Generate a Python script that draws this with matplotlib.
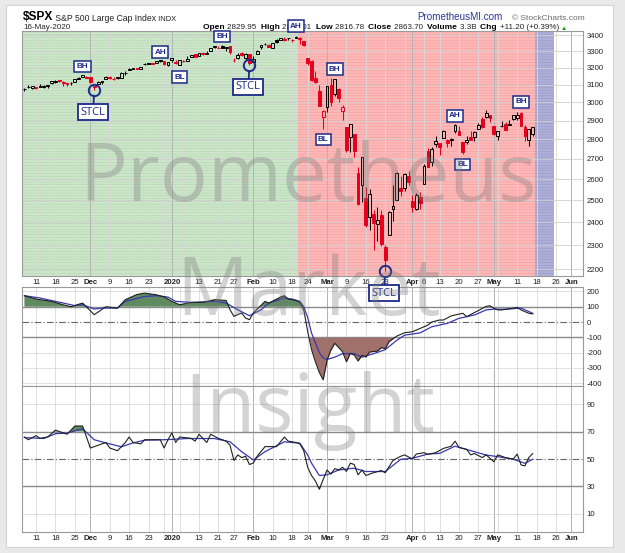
import matplotlib
matplotlib.use("agg")
import matplotlib.pyplot as plt
from matplotlib.ticker import FixedLocator, NullLocator, FixedFormatter
import numpy as np
import pandas as pd

W, H = 625, 553

# ---- trading calendar -------------------------------------------------
holidays = ["2019-11-28", "2019-12-25", "2020-01-01", "2020-01-20",
            "2020-02-17", "2020-04-10", "2020-05-25"]
cal = pd.bdate_range("2019-11-06", "2020-06-05")
cal = cal[~cal.isin(pd.to_datetime(holidays))]
day_index = {d: i for i, d in enumerate(cal)}


def idx(md):
    year = "2019" if md[:2] in ("11", "12") else "2020"
    return day_index[pd.Timestamp(f"{year}-{md}")]


# ---- $SPX daily OHLC, 6-Nov-2019 .. 15-May-2020 -----------------------
opens = [
    3075.10, 3087.02, 3081.25, 3080.33, 3089.28, 3084.18, 3090.75, 3107.92, 3117.91, 3127.45,
    3114.66, 3108.49, 3111.41, 3117.44, 3134.85, 3145.49, 3147.18,
    3143.85, 3087.41, 3103.50, 3119.21, 3134.62, 3141.86, 3135.36, 3135.75, 3141.23, 3166.65,
    3183.63, 3195.40, 3195.21, 3192.32, 3223.33, 3226.05, 3225.45, 3227.20, 3247.23, 3240.09, 3215.18,
    3244.67, 3226.36, 3217.55, 3241.86, 3238.59, 3266.03, 3281.81, 3271.13, 3285.35, 3282.27,
    3302.97, 3323.66, 3321.03, 3330.02, 3315.77, 3333.10, 3247.16, 3255.35, 3289.46, 3256.45, 3282.33,
    3235.66, 3280.61, 3324.91, 3344.92, 3335.54, 3318.28, 3365.87, 3370.50, 3365.90, 3378.08,
    3369.04, 3380.39, 3380.45, 3360.50, 3257.61, 3238.94, 3139.90, 3062.54, 2916.90,
    2974.28, 3096.46, 3045.75, 3075.70, 2954.20, 2863.89, 2813.48, 2825.60, 2630.86, 2569.99,
    2508.59, 2425.66, 2436.50, 2393.48, 2431.94, 2290.71, 2344.44, 2457.77, 2501.29, 2555.87, 2558.98, 2614.69,
    2498.08, 2458.54, 2514.92, 2578.28, 2738.65, 2685.00, 2776.99, 2782.46, 2805.10, 2795.64,
    2799.34, 2842.43, 2845.62, 2784.81, 2787.89, 2810.42, 2812.64, 2854.65, 2909.96, 2918.46, 2930.91,
    2869.09, 2815.01, 2868.88, 2883.14, 2878.26, 2908.83, 2915.46, 2939.50, 2865.86, 2794.54, 2829.95,
]
highs = [
    3078.34, 3097.77, 3093.09, 3088.33, 3102.61, 3098.06, 3098.20, 3120.46, 3124.17, 3127.64,
    3118.97, 3110.11, 3112.87, 3133.83, 3142.69, 3154.26, 3150.30,
    3144.31, 3094.97, 3119.38, 3119.45, 3150.60, 3148.87, 3142.12, 3143.98, 3176.28, 3182.68,
    3197.71, 3198.22, 3198.48, 3205.48, 3225.65, 3227.78, 3226.43, 3240.08, 3247.93, 3240.92, 3231.72,
    3258.14, 3246.15, 3246.84, 3244.91, 3267.07, 3275.58, 3282.99, 3288.13, 3294.25, 3298.66,
    3317.11, 3329.88, 3329.79, 3337.77, 3326.88, 3333.18, 3258.85, 3285.78, 3293.47, 3285.91, 3282.33,
    3268.44, 3306.92, 3337.58, 3347.96, 3341.42, 3352.26, 3375.63, 3381.47, 3385.09, 3380.69,
    3375.01, 3393.52, 3389.15, 3360.76, 3259.81, 3246.99, 3182.51, 3097.07, 2959.72,
    3090.96, 3136.72, 3130.97, 3083.04, 2985.93, 2863.89, 2882.59, 2825.60, 2660.95, 2711.33,
    2562.98, 2553.93, 2453.57, 2466.97, 2453.01, 2300.73, 2449.71, 2571.42, 2637.01, 2615.91, 2631.80, 2641.39,
    2522.75, 2533.22, 2538.18, 2676.85, 2756.89, 2760.75, 2818.57, 2782.46, 2851.85, 2801.88,
    2806.51, 2879.22, 2868.98, 2785.54, 2815.10, 2844.90, 2842.71, 2887.72, 2921.15, 2954.86, 2930.91,
    2869.09, 2844.24, 2898.23, 2891.11, 2901.92, 2932.16, 2944.25, 2945.82, 2874.14, 2852.80, 2865.01,
]
lows = [
    3065.89, 3080.23, 3073.58, 3075.82, 3084.73, 3078.80, 3083.26, 3104.60, 3112.06, 3113.47,
    3091.41, 3094.55, 3099.26, 3117.44, 3131.00, 3143.41, 3139.34,
    3110.78, 3070.33, 3102.53, 3103.76, 3134.62, 3135.46, 3126.09, 3133.21, 3138.47, 3156.51,
    3183.63, 3191.03, 3191.14, 3192.32, 3216.03, 3222.30, 3220.51, 3227.20, 3234.37, 3216.57, 3212.03,
    3235.53, 3222.34, 3214.64, 3232.43, 3236.67, 3263.67, 3260.86, 3268.43, 3277.19, 3280.69,
    3302.82, 3318.86, 3316.61, 3320.04, 3301.87, 3281.53, 3234.50, 3253.22, 3271.89, 3242.80, 3214.68,
    3235.66, 3280.61, 3313.75, 3334.39, 3322.12, 3317.77, 3352.72, 3369.72, 3360.52, 3366.15,
    3355.61, 3378.83, 3341.02, 3328.45, 3214.65, 3118.77, 3108.99, 2977.39, 2855.84,
    2945.19, 2976.63, 3034.38, 2999.83, 2901.54, 2734.43, 2734.00, 2707.22, 2478.86, 2492.37,
    2380.94, 2367.04, 2280.52, 2319.78, 2295.56, 2191.86, 2344.44, 2407.53, 2500.72, 2520.02, 2545.28, 2571.15,
    2447.49, 2455.79, 2459.96, 2574.57, 2657.67, 2663.30, 2762.36, 2721.17, 2805.10, 2761.54,
    2764.32, 2830.88, 2820.43, 2727.10, 2775.95, 2794.26, 2791.76, 2852.89, 2860.71, 2912.16, 2892.47,
    2821.61, 2797.85, 2863.55, 2847.65, 2876.48, 2902.88, 2903.44, 2869.59, 2793.15, 2766.64, 2816.78,
]
closes = [
    3076.78, 3085.18, 3093.08, 3087.01, 3091.84, 3094.04, 3096.63, 3120.46, 3122.03, 3120.18,
    3108.46, 3103.54, 3110.29, 3133.64, 3140.52, 3153.63, 3140.98,
    3113.87, 3093.20, 3112.76, 3117.43, 3145.91, 3135.96, 3132.52, 3141.63, 3168.57, 3168.80,
    3191.45, 3192.52, 3191.14, 3205.37, 3221.22, 3224.01, 3223.38, 3239.91, 3240.02, 3221.29, 3230.78,
    3257.85, 3234.85, 3246.28, 3237.18, 3253.05, 3274.70, 3265.35, 3288.13, 3283.15, 3289.29,
    3316.81, 3329.62, 3320.79, 3321.75, 3325.54, 3295.47, 3243.63, 3276.24, 3273.40, 3283.66, 3225.52,
    3248.92, 3297.59, 3334.69, 3345.78, 3327.71, 3352.09, 3357.75, 3379.45, 3373.94, 3380.16,
    3370.29, 3386.15, 3373.23, 3337.75, 3225.89, 3128.21, 3116.39, 2978.76, 2954.22,
    3090.23, 3003.37, 3130.12, 3023.94, 2972.37, 2746.56, 2882.23, 2741.38, 2480.64, 2711.02,
    2386.13, 2529.19, 2398.10, 2409.39, 2304.92, 2237.40, 2447.33, 2475.56, 2630.07, 2541.47, 2626.65, 2584.59,
    2470.50, 2526.90, 2488.65, 2663.68, 2659.41, 2749.98, 2789.82, 2761.63, 2846.06, 2783.36,
    2799.55, 2874.56, 2823.16, 2736.56, 2799.31, 2797.80, 2836.74, 2878.48, 2863.39, 2939.51, 2912.43,
    2830.71, 2842.74, 2868.44, 2848.42, 2881.19, 2929.80, 2930.32, 2870.12, 2820.00, 2852.50, 2863.70,
]

# ---- middle panel (CCI style) : line + signal -------------------------
cci_dates = ["11-06", "11-11", "11-15", "11-20", "11-22", "11-27", "12-03", "12-06", "12-11", "12-13",
             "12-18", "12-20", "12-26", "12-30", "01-02", "01-06", "01-09", "01-14", "01-17", "01-23",
             "01-24", "01-27", "01-29", "01-30", "01-31", "02-03", "02-06", "02-07", "02-12", "02-13",
             "02-14", "02-19", "02-20", "02-21", "02-24", "02-25", "02-26", "02-27", "02-28", "03-02",
             "03-03", "03-04", "03-06", "03-09", "03-10", "03-11", "03-12", "03-13", "03-16", "03-17",
             "03-19", "03-20", "03-23", "03-24", "03-26", "03-30", "04-01", "04-03", "04-07", "04-08",
             "04-13", "04-14", "04-16", "04-17", "04-21", "04-22", "04-24", "04-27", "04-29", "04-30",
             "05-01", "05-04", "05-05", "05-08", "05-11", "05-12", "05-14", "05-15"]
cci_vals = [172, 150, 135, 112, 100, 124, 48, 100, 91, 146,
            180, 189, 178, 165, 135, 113, 128, 128, 146, 141,
            80, 37, 59, 26, 15, 59, 135, 124, 163, 172,
            150, 141, 128, 80, -60, -180, -260, -330, -378, -250,
            -183, -139, -195, -260, -205, -216, -255, -218, -229, -196,
            -190, -168, -174, -128, -92, -70, -64, -42, -20, 0,
            13, 13, 40, 46, 57, 35, 62, 75, 102, 106,
            90, 79, 79, 90, 95, 79, 57, 53]
cci_sig_dates = ["11-06", "11-12", "11-20", "11-25", "11-27", "12-03", "12-05", "12-11", "12-13", "12-20",
                 "12-26", "12-31", "01-03", "01-09", "01-17", "01-23", "01-28", "01-31", "02-05", "02-07",
                 "02-13", "02-18", "02-20", "02-21", "02-24", "02-25", "02-26", "02-27", "02-28", "03-02",
                 "03-04", "03-06", "03-11", "03-13", "03-18", "03-23", "03-26", "03-30", "04-03", "04-08",
                 "04-15", "04-20", "04-24", "04-29", "05-01", "05-06", "05-12", "05-15"]
cci_sig_vals = [172, 157, 124, 107, 113, 85, 91, 91, 135, 167,
                172, 163, 135, 128, 135, 124, 80, 41, 80, 124,
                157, 150, 135, 100, 30, -72, -137, -200, -235, -245,
                -230, -207, -207, -230, -207, -181, -119, -86, -71, -31,
                -9, 24, 46, 79, 84, 84, 91, 57]

# ---- bottom panel (RSI style) : line + signal --------------------------
rsi_dates = ["11-06", "11-07", "11-11", "11-12", "11-14", "11-18", "11-20", "11-21", "11-25", "11-27",
             "12-02", "12-04", "12-06", "12-09", "12-11", "12-13", "12-16", "12-17", "12-19", "12-20",
             "12-27", "12-30", "12-31", "01-02", "01-03", "01-06", "01-09", "01-10", "01-13", "01-14",
             "01-15", "01-16", "01-21", "01-23", "01-24", "01-27", "01-28", "01-29", "01-30", "01-31",
             "02-03", "02-04", "02-06", "02-11", "02-13", "02-14", "02-19", "02-20", "02-21", "02-24",
             "02-25", "02-26", "02-27", "03-02", "03-03", "03-04", "03-05", "03-06", "03-09", "03-10",
             "03-11", "03-12", "03-13", "03-16", "03-18", "03-20", "03-23", "03-24", "03-25", "03-27",
             "03-30", "04-01", "04-02", "04-06", "04-07", "04-09", "04-14", "04-16", "04-17", "04-20",
             "04-22", "04-23", "04-24", "04-28", "04-29", "05-01", "05-04", "05-06", "05-08", "05-11",
             "05-12", "05-13", "05-14", "05-15"]
rsi_vals = [66, 64, 67, 65, 66, 71, 69, 68, 74, 74,
            58, 60, 62, 58, 56, 62, 66, 62, 61, 64,
            64, 58, 64, 69, 62, 66, 65, 63, 68, 65,
            62, 68, 65, 63, 60, 49, 53, 51, 52, 46,
            47, 52, 59, 59, 66, 63, 62, 61, 56, 44,
            38, 34, 28, 42, 39, 43, 42, 44, 41, 47,
            46, 38.5, 42, 38, 40, 41.6, 40, 44.5, 49, 52,
            53, 50, 53.6, 54.6, 53.4, 54.6, 57.7, 59.3, 63, 58.4,
            57, 53, 54, 51, 53, 48, 53, 51, 50, 53.6,
            45.7, 45, 51, 54]
rsi_sig_dates = ["11-06", "11-13", "11-18", "11-21", "11-27", "12-03", "12-06", "12-12", "12-17", "12-20",
                 "12-31", "01-08", "01-17", "01-24", "01-29", "02-03", "02-06", "02-13", "02-20", "02-24",
                 "02-25", "02-27", "03-02", "03-05", "03-11", "03-16", "03-23", "03-27", "04-01", "04-07",
                 "04-13", "04-17", "04-24", "04-29", "05-04", "05-08", "05-13", "05-15"]
rsi_sig_vals = [65.6, 64.9, 68.4, 68.9, 72, 64, 61.7, 58.9, 61.7, 63.7,
                64.1, 64.9, 64.9, 62.5, 55.3, 49.3, 55.3, 62.5, 61.5, 53,
                47, 38, 38.5, 42, 43.3, 40.9, 40.9, 49.8, 50.5, 53.6,
                54.1, 59.3, 55.3, 52.9, 51.7, 49.8, 46.9, 49.8]

# ---- chart annotations -------------------------------------------------
tag_text = ["BH", "AH", "BL", "BH", "AH", "BH", "BL", "AH", "BL", "BH"]
tag_date = ["11-27", "12-27", "01-06", "01-22", "02-19", "03-04", "02-28", "04-17", "04-21", "05-12"]
tag_price = [3206, 3294, 3144, 3390, 3457, 3191, 2799, 2925, 2673, 3002]
stcl_date = ["12-03", "01-31", "03-23"]
stcl_box_price = [2946, 3089, 2104]

phase_green = ("11-06", "02-19")
phase_red = ("02-20", "05-15")
phase_blue_days = 5

price_ticks = list(range(2200, 3401, 100))
cci_ticks = [200, 100, 0, -100, -200, -300, -400]
rsi_ticks = [90, 70, 50, 30, 10]

date_labels = [("11-11", "11"), ("11-18", "18"), ("11-25", "25"), ("12-02", "Dec"), ("12-09", "9"),
               ("12-16", "16"), ("12-23", "23"), ("01-02", "2020"), ("01-13", "13"), ("01-21", "21"),
               ("01-27", "27"), ("02-03", "Feb"), ("02-10", "10"), ("02-18", "18"), ("02-24", "24"),
               ("03-02", "Mar"), ("03-09", "9"), ("03-16", "16"), ("03-23", "23"), ("04-01", "Apr"),
               ("04-06", "6"), ("04-13", "13"), ("04-20", "20"), ("04-27", "27"), ("05-01", "May"),
               ("05-11", "11"), ("05-18", "18"), ("05-26", "26"), ("06-01", "Jun")]
bold_labels = {"Dec", "2020", "Feb", "Mar", "Apr", "May", "Jun"}

# ---- colours -----------------------------------------------------------
NAVY = "#1c2a8a"
RED = "#e6001c"
GREEN_FILL = "#608a60"
BROWN_FILL = "#a0706a"
BLUE_LINE = "#3838b0"
SANS = ["Liberation Sans", "DejaVu Sans"]

plt.rcParams["hatch.linewidth"] = 0.35


def box(l, t, r, b):
    return [l / W, 1 - b / H, (r - l) / W, (b - t) / H]


fig = plt.figure(figsize=(W / 100, H / 100), dpi=100, facecolor="#e9e9e9")
fig.patches.append(plt.Rectangle((6 / W, 1 - 547 / H), 607 / W, 542 / H, transform=fig.transFigure,
                                 facecolor="white", edgecolor="#d4d4d4", lw=0.8, zorder=-5))

ax1 = fig.add_axes(box(22, 31, 583, 276))
ax2 = fig.add_axes(box(22, 287.3, 583, 385.6))
ax3 = fig.add_axes(box(22, 386, 583, 532))
ax1.set_zorder(5)

XLIM = (-0.62, 143.97)
week_x = [i for i in range(1, len(cal)) if cal[i].weekday() < cal[i - 1].weekday()]
month_x = [i for i in range(1, len(cal)) if cal[i].month != cal[i - 1].month]

for ax in (ax1, ax2, ax3):
    ax.set_xlim(*XLIM)
    for xx in week_x:
        ax.axvline(xx, color="#d9d9d9", lw=0.6, zorder=1)
    for xx in month_x:
        ax.axvline(xx, color="#b2b2b2", lw=0.7, zorder=1)
    for s in ax.spines.values():
        s.set_color("#9a9a9a")
        s.set_linewidth(0.8)
    ax.yaxis.tick_right()
    ax.tick_params(axis="both", length=0, labelsize=5.6, pad=2.5, labelcolor="#222222")

# ---- price panel ------------------------------------------------------
o = np.array(opens)
hi = np.array(highs)
lo = np.array(lows)
c = np.array(closes)
x = np.arange(len(c))

ax1.set_yscale("log")
ax1.set_ylim(2171.6, 3425.4)
ax1.yaxis.set_major_locator(FixedLocator(price_ticks))
ax1.yaxis.set_minor_locator(NullLocator())
ax1.yaxis.set_major_formatter(FixedFormatter([str(t) for t in price_ticks]))
for t in price_ticks:
    ax1.axhline(t, color="#cfcfcf", lw=0.6, zorder=1)

g1 = idx(phase_green[1])
r0, r1 = idx(phase_red[0]), idx(phase_red[1])
ax1.axvspan(XLIM[0], g1 + 0.5, facecolor="#cbe6c9", edgecolor="#b2d2ae", hatch="------", lw=0, zorder=0)
ax1.axvspan(r0 - 0.5, r1 + 0.5, facecolor="#ffb8b8", edgecolor="#f09a9a", hatch="------", lw=0, zorder=0)
ax1.axvspan(r1 + 0.5, r1 + 0.5 + phase_blue_days, facecolor="#aeaed8", edgecolor="#9898c8",
            hatch="------", lw=0, zorder=0)

prev = np.r_[o[0], c[:-1]]
col = np.where(c < prev, RED, "black")
face = np.where(c > o, "none", col)
body_lo = np.minimum(o, c)
body_hi = np.maximum(o, c)
ax1.vlines(x, lo, body_lo, colors=col, lw=0.75, zorder=3)
ax1.vlines(x, body_hi, hi, colors=col, lw=0.75, zorder=3)
ax1.bar(x, body_hi - body_lo, bottom=body_lo, width=0.72, color=face, edgecolor=col, linewidth=0.7, zorder=4)

for txt, d, p in zip(tag_text, tag_date, tag_price):
    ax1.text(idx(d), p, txt, ha="center", va="center", fontsize=5.9, weight="bold", family=SANS,
             color=NAVY, zorder=8, clip_on=False,
             bbox=dict(boxstyle="square,pad=0.28", fc="white", ec=NAVY, lw=1.1))

for d, bp in zip(stcl_date, stcl_box_price):
    i = idx(d)
    ax1.plot(i, lo[i], "o", ms=8.2, mfc="none", mec=NAVY, mew=1.4, zorder=8, clip_on=False)
    ax1.annotate("STCL", xy=(i, lo[i]), xytext=(i - 0.3, bp), ha="center", va="center",
                 fontsize=8, family=["Open Sans", "DejaVu Sans"], color=NAVY, zorder=8,
                 annotation_clip=False,
                 bbox=dict(boxstyle="square,pad=0.22", fc="white", ec=NAVY, lw=1.3),
                 arrowprops=dict(arrowstyle="-", color=NAVY, lw=1.3, shrinkA=0, shrinkB=4.1))

pos = [idx(d) for d, _ in date_labels]
labs = [lab for _, lab in date_labels]
for ax in (ax1, ax3):
    ax.set_xticks(pos, labs)
    for tl in ax.get_xticklabels():
        if tl.get_text() in bold_labels:
            tl.set_weight("bold")
ax2.set_xticks(pos, [""] * len(pos))
ax2.tick_params(axis="x", labelbottom=False)

# ---- middle panel -----------------------------------------------------
ax2.set_ylim(-416, 227)
ax2.set_yticks(cci_ticks, [str(t) for t in cci_ticks])
for t in (200, -200, -300, -400):
    ax2.axhline(t, color="#d9d9d9", lw=0.6, zorder=1)
for t in (100, -100):
    ax2.axhline(t, color="#8a8a8a", lw=1.0, zorder=1)
ax2.axhline(0, color="#666666", lw=0.8, ls=(0, (6, 2, 1, 2)), zorder=1)
cx = np.array([idx(d) for d in cci_dates])
cy = np.array(cci_vals, dtype=float)
ax2.fill_between(cx, cy, 100, where=cy >= 100, interpolate=True, color=GREEN_FILL, lw=0, zorder=2)
ax2.fill_between(cx, cy, -100, where=cy <= -100, interpolate=True, color=BROWN_FILL, lw=0, zorder=2)
ax2.plot([idx(d) for d in cci_sig_dates], cci_sig_vals, color=BLUE_LINE, lw=0.9, zorder=3)
ax2.plot(cx, cy, color="#202020", lw=0.8, zorder=4)

# ---- bottom panel -----------------------------------------------------
ax3.set_ylim(-3.1, 103.1)
ax3.set_yticks(rsi_ticks, [str(t) for t in rsi_ticks])
for t in (90, 10):
    ax3.axhline(t, color="#d9d9d9", lw=0.6, zorder=1)
for t in (70, 30):
    ax3.axhline(t, color="#8a8a8a", lw=1.0, zorder=1)
ax3.axhline(50, color="#666666", lw=0.8, ls=(0, (6, 2, 1, 2)), zorder=1)
rx = np.array([idx(d) for d in rsi_dates])
ry = np.array(rsi_vals, dtype=float)
ax3.fill_between(rx, ry, 70, where=ry >= 70, interpolate=True, color=GREEN_FILL, lw=0, zorder=2)
ax3.fill_between(rx, ry, 30, where=ry <= 30, interpolate=True, color=BROWN_FILL, lw=0, zorder=2)
ax3.plot([idx(d) for d in rsi_sig_dates], rsi_sig_vals, color=BLUE_LINE, lw=0.9, zorder=3)
ax3.plot(rx, ry, color="#202020", lw=0.8, zorder=4)

for ax in (ax1, ax2, ax3):
    for lab in ax.get_yticklabels() + ax.get_xticklabels():
        lab.set_family(SANS)
        lab.set_fontsize(5.6)

# ---- header -------------------------------------------------------------
def run(parts, px, py):
    t = None
    for s, size, wgt, colr in parts:
        if t is None:
            t = ax1.annotate(s, xy=(px / W, 1 - py / H), xycoords="figure fraction", va="baseline",
                             fontsize=size, weight=wgt, family=SANS, color=colr,
                             annotation_clip=False, zorder=1)
        else:
            t = ax1.annotate(s, xy=(1, 0), xycoords=t, va="bottom", fontsize=size, weight=wgt,
                             family=SANS, color=colr, annotation_clip=False, zorder=1)
    return t


run([("$SPX", 8.6, "bold", "black"), (" S&P 500 Large Cap Index", 6.2, "normal", "#222222"),
     (" INDX", 5.4, "normal", "#222222")], 23, 20)
ax1.annotate("16-May-2020", xy=(23 / W, 1 - 29 / H), xycoords="figure fraction", fontsize=5.8,
             family=SANS, color="#222222", annotation_clip=False)
run([("Open ", 6.0, "bold", "black"), ("2829.95  ", 5.8, "normal", "#222222"),
     ("High ", 6.0, "bold", "black"), ("2865.01  ", 5.8, "normal", "#222222"),
     ("Low ", 6.0, "bold", "black"), ("2816.78  ", 5.8, "normal", "#222222"),
     ("Close ", 6.0, "bold", "black"), ("2863.70  ", 5.8, "normal", "#222222"),
     ("Volume ", 6.0, "bold", "black"), ("3.3B  ", 5.8, "normal", "#222222"),
     ("Chg ", 6.0, "bold", "black"), ("+11.20 (+0.39%) ", 5.8, "normal", "#222222"),
     ("\u25b2", 4.5, "normal", "#119911")], 203, 29)
ax1.annotate("PrometheusMI.com", xy=(417 / W, 1 - 20.5 / H), xycoords="figure fraction", fontsize=7.1,
             family=SANS, color="#2b3690", annotation_clip=False)
ax1.annotate("\u00a9 StockCharts.com", xy=(512 / W, 1 - 20 / H), xycoords="figure fraction", fontsize=6.0,
             family=SANS, color="#6a6a6a", annotation_clip=False)

# ---- watermark -------------------------------------------------------------
for word, px, py in (("Prometheus", 308, 201), ("Market", 309, 315), ("Insight", 309.5, 432)):
    fig.text(px / W, 1 - py / H, word, fontsize=57.6, family=["Open Sans", "DejaVu Sans"],
             color="#7a7a7a", alpha=0.33, ha="center", va="baseline", zorder=10)

fig.savefig("out.png", dpi=100, facecolor=fig.get_facecolor())
